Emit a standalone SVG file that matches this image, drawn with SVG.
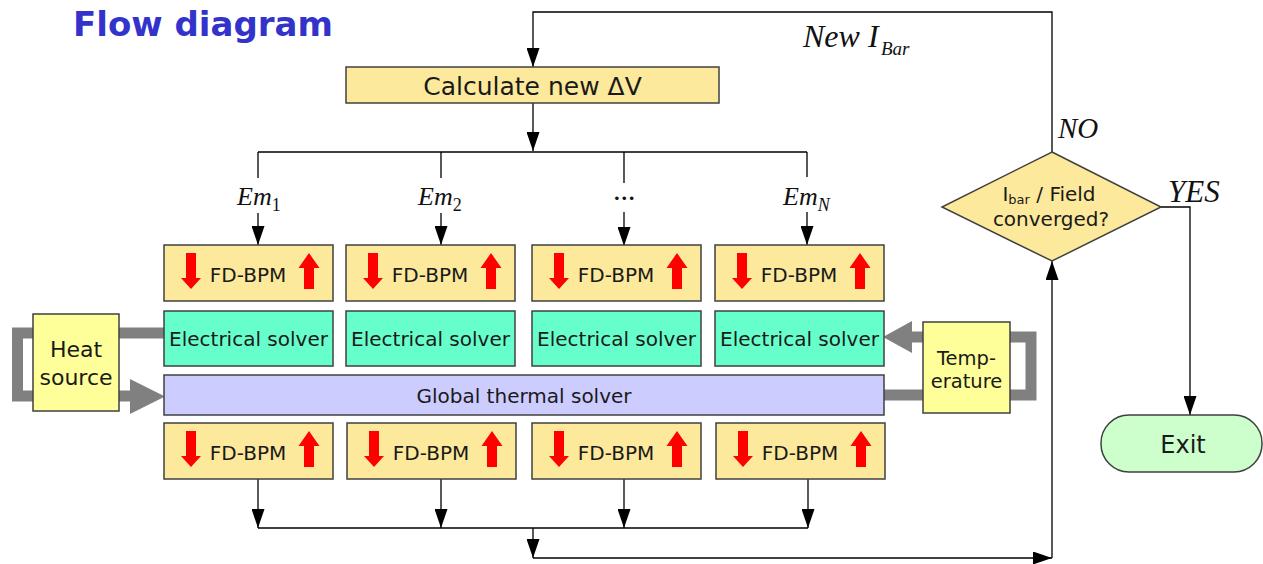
<svg xmlns="http://www.w3.org/2000/svg" xmlns:xlink="http://www.w3.org/1999/xlink" width="1263" height="564" viewBox="0 0 1263 564">
<style>
.box{stroke:#404040;stroke-width:1.5}
.fd{fill:#fde99b}
.el{fill:#66ffcc}
.gl{fill:#ccccff}
.hs{fill:#ffff99}
.ex{fill:#ccffcc}
.t{font-family:"DejaVu Sans",Verdana,sans-serif;fill:#1a1a1a}
.m{font-family:"Liberation Serif","Times New Roman",serif;font-style:italic;fill:#111}
.ln{stroke:#000;stroke-width:1.3;fill:none}
.lna{stroke:#000;stroke-width:1.3;fill:none;marker-end:url(#ah)}
.gray{stroke:#808080;stroke-width:11;fill:none;stroke-linejoin:miter}
.red{fill:#ff0000}
</style>
<defs>
<marker id="ah" viewBox="0 0 19 13" refX="19" refY="6.5" markerWidth="19" markerHeight="13" markerUnits="userSpaceOnUse" orient="auto">
<path d="M0,0 L19,6.5 L0,13 Z" fill="#000"/>
</marker>
<path id="dn" class="red" d="M-5,0 H5 V25 H10 L0,36 L-10,25 H-5 Z"/>
<path id="up" class="red" d="M0,0 L10.5,15 H5 V36 H-5 V15 H-10.5 Z"/>
</defs>
<rect width="1263" height="564" fill="#fff"/>
<text x="73" y="36" font-family="'DejaVu Sans',Verdana,sans-serif" font-weight="bold" font-size="34" fill="#3333cc">Flow diagram</text>

<g id="connectors">
<path class="gray" d="M166,333 H17.5 V396 H132"/>
<polygon points="130,379 165,396.5 130,414" fill="#808080"/>
<path class="gray" d="M883,395 H1031 V337 H911"/>
<polygon points="912,321 883,337 912,353" fill="#808080"/>
<path class="lna" d="M1052,152 V12 H533 V67"/>
<path class="lna" d="M533,103 V151"/>
<path class="ln" d="M258,152 H807"/>
<path class="ln" d="M258,152 V178 M441,152 V178 M624,152 V183 M807,152 V177"/>
<path class="lna" d="M258,213 V245"/>
<path class="lna" d="M441,213 V245"/>
<path class="lna" d="M624,212 V246"/>
<path class="lna" d="M807,212 V245"/>
<path class="lna" d="M258,479 V528"/>
<path class="lna" d="M441,479 V528"/>
<path class="lna" d="M624,479 V528"/>
<path class="lna" d="M808,479 V528"/>
<path class="ln" d="M258,528 H808"/>
<path class="lna" d="M533,528 V558"/>
<path class="lna" d="M533,558 H1052"/>
<path class="lna" d="M1052,558 V261"/>
<path class="lna" d="M1161,207 H1190 V415"/>
</g>

<g id="labels">
<text class="m" x="803" y="47" font-size="32">New I</text>
<text class="m" x="881" y="55" font-size="19">Bar</text>
<text class="m" x="1058" y="138" font-size="29">NO</text>
<text class="m" x="1168" y="202" font-size="31">YES</text>
<text class="m" x="237" y="205" font-size="26">Em<tspan font-style="normal" font-size="18" dy="6">1</tspan></text>
<text class="m" x="418" y="205" font-size="26">Em<tspan font-style="normal" font-size="18" dy="6">2</tspan></text>
<text class="m" x="625" y="200" font-size="22" font-weight="bold" font-style="normal" text-anchor="middle">…</text>
<text class="m" x="783" y="205" font-size="26">Em<tspan font-size="18" dy="6">N</tspan></text>
</g>

<g id="calc">
<rect class="box fd" x="346" y="67" width="373" height="36"/>
<text class="t" x="532.5" y="95" font-size="25" text-anchor="middle">Calculate new ΔV</text>
</g>

<g id="fd1"><rect class="box fd" x="164" y="245" width="169" height="56"/><use href="#dn" x="191" y="253"/><use href="#up" x="309" y="253"/><text class="t" x="248" y="282" font-size="20" text-anchor="middle">FD-BPM</text></g>
<g id="fd2"><rect class="box fd" x="346" y="245" width="169" height="56"/><use href="#dn" x="373" y="253"/><use href="#up" x="491" y="253"/><text class="t" x="430" y="282" font-size="20" text-anchor="middle">FD-BPM</text></g>
<g id="fd3"><rect class="box fd" x="532" y="245" width="169" height="56"/><use href="#dn" x="559" y="253"/><use href="#up" x="677" y="253"/><text class="t" x="616" y="282" font-size="20" text-anchor="middle">FD-BPM</text></g>
<g id="fd4"><rect class="box fd" x="715" y="245" width="169" height="56"/><use href="#dn" x="742" y="253"/><use href="#up" x="860" y="253"/><text class="t" x="799" y="282" font-size="20" text-anchor="middle">FD-BPM</text></g>

<g id="el1"><rect class="box el" x="164" y="311" width="169" height="55"/><text class="t" x="248.5" y="346" font-size="20" text-anchor="middle">Electrical solver</text></g>
<g id="el2"><rect class="box el" x="346" y="311" width="169" height="55"/><text class="t" x="430.5" y="346" font-size="20" text-anchor="middle">Electrical solver</text></g>
<g id="el3"><rect class="box el" x="532" y="311" width="169" height="55"/><text class="t" x="616.5" y="346" font-size="20" text-anchor="middle">Electrical solver</text></g>
<g id="el4"><rect class="box el" x="715" y="311" width="169" height="55"/><text class="t" x="799.5" y="346" font-size="20" text-anchor="middle">Electrical solver</text></g>

<g id="global"><rect class="box gl" x="164" y="375" width="720" height="40"/><text class="t" x="524" y="403" font-size="20" text-anchor="middle">Global thermal solver</text></g>

<g id="fd5"><rect class="box fd" x="164" y="423" width="169" height="56"/><use href="#dn" x="191" y="431"/><use href="#up" x="309" y="431"/><text class="t" x="248" y="460" font-size="20" text-anchor="middle">FD-BPM</text></g>
<g id="fd6"><rect class="box fd" x="347" y="423" width="169" height="56"/><use href="#dn" x="374" y="431"/><use href="#up" x="492" y="431"/><text class="t" x="431" y="460" font-size="20" text-anchor="middle">FD-BPM</text></g>
<g id="fd7"><rect class="box fd" x="532" y="423" width="169" height="56"/><use href="#dn" x="559" y="431"/><use href="#up" x="677" y="431"/><text class="t" x="616" y="460" font-size="20" text-anchor="middle">FD-BPM</text></g>
<g id="fd8"><rect class="box fd" x="716" y="423" width="169" height="56"/><use href="#dn" x="743" y="431"/><use href="#up" x="861" y="431"/><text class="t" x="800" y="460" font-size="20" text-anchor="middle">FD-BPM</text></g>

<g id="heat"><rect class="box hs" x="33" y="314" width="86" height="97"/><text class="t" x="76" y="357" font-size="22" text-anchor="middle">Heat</text><text class="t" x="76" y="385" font-size="22" text-anchor="middle">source</text></g>
<g id="temp"><rect class="box hs" x="923" y="322" width="87" height="91"/><text class="t" x="966.5" y="365" font-size="19.5" text-anchor="middle">Temp-</text><text class="t" x="966.5" y="388" font-size="19.5" text-anchor="middle">erature</text></g>

<g id="decision"><polygon class="box fd" points="1052,152 1161,207 1052,261 942,207"/>
<text class="t" x="1049" y="201" font-size="20" text-anchor="middle">I<tspan font-size="13" dy="3">bar</tspan><tspan dy="-3"> / Field</tspan></text>
<text class="t" x="1051" y="226" font-size="20" text-anchor="middle">converged?</text></g>

<g id="exit"><rect class="box ex" x="1101" y="415" width="161" height="57" rx="28" ry="28"/><text class="t" x="1183" y="453" font-size="24" text-anchor="middle">Exit</text></g>
</svg>
